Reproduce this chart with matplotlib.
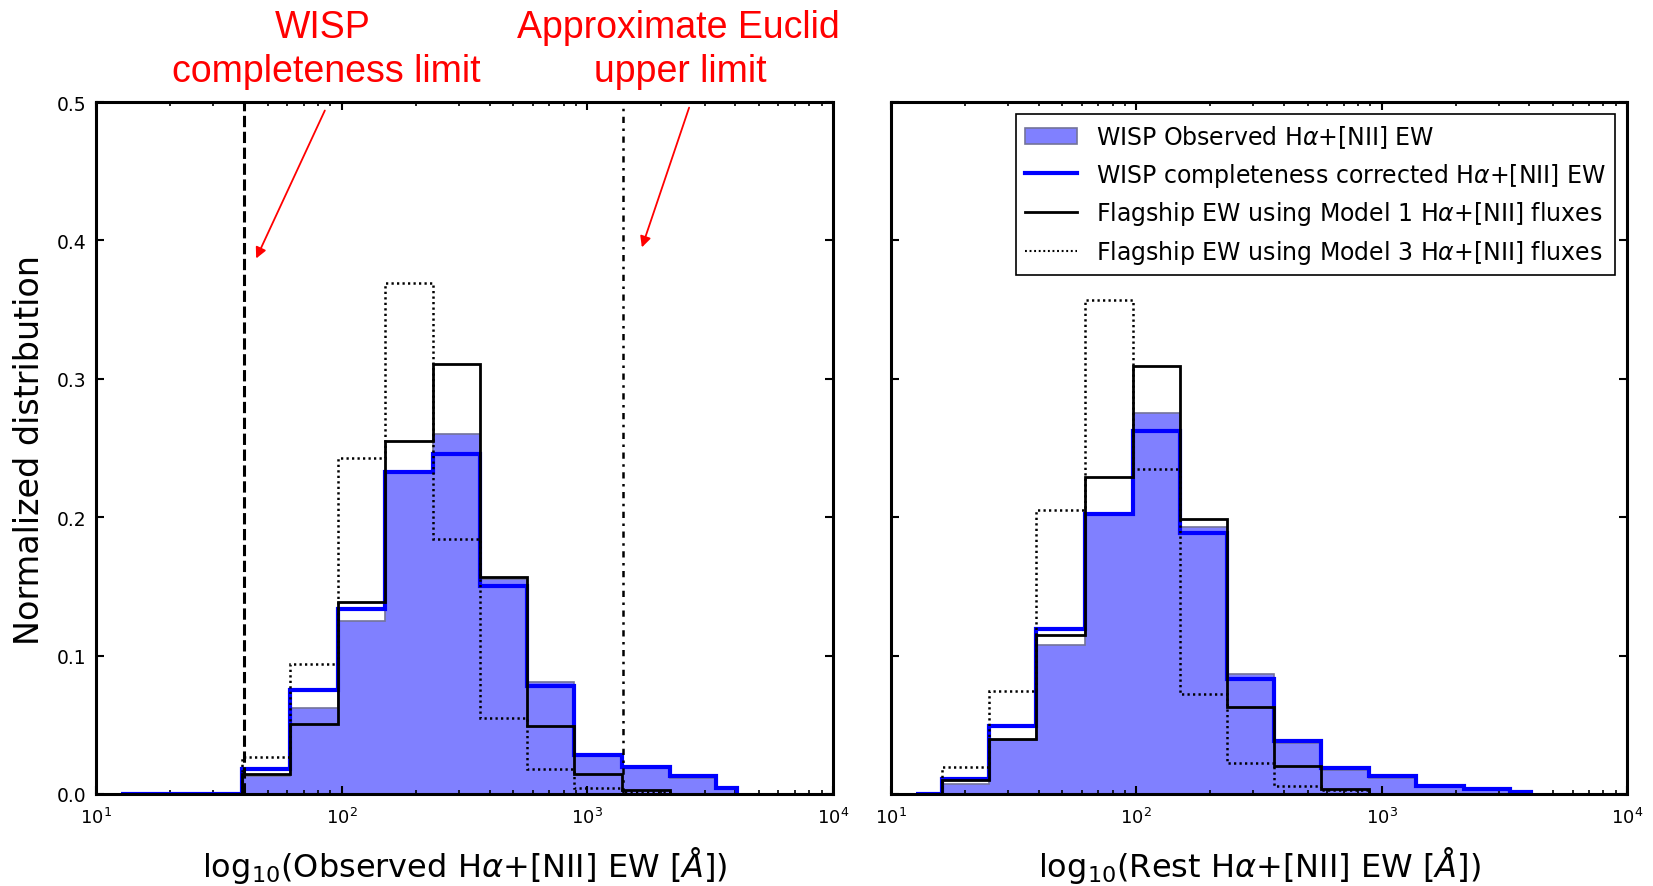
import numpy as np
import matplotlib
matplotlib.use("Agg")
import matplotlib.pyplot as plt
from matplotlib.patches import Patch, FancyArrowPatch
from matplotlib.lines import Line2D

# ---------------- data ----------------
# common bin edges, log10(EW / Angstrom)
bin_edges_log = [1.10, 1.206, 1.40, 1.593, 1.79, 1.987, 2.177, 2.37, 2.563,
                 2.754, 2.947, 3.14, 3.336, 3.525, 3.61]
nan = np.nan

# Left panel: observed-frame EW
obs_wisp_observed = [0, 0, 0, 0.013, 0.062, 0.125, 0.232, 0.260, 0.155, 0.081,
                     0.0277, 0.0188, 0.0113, 0.0036]
obs_wisp_corrected = [0, 0, 0, 0.018, 0.0755, 0.134, 0.233, 0.246, 0.150, 0.078,
                      0.0285, 0.0197, 0.0127, 0.0043]
obs_flagship_m1 = [nan, nan, nan, 0.0144, 0.0505, 0.139, 0.255, 0.311, 0.157,
                   0.049, 0.0145, 0.0032, nan, nan]
obs_flagship_m3 = [nan, nan, nan, 0.027, 0.094, 0.243, 0.369, 0.184, 0.0547,
                   0.018, 0.0043, 0.0012, nan, nan]

# Right panel: rest-frame EW
rest_wisp_observed = [0, 0.0075, 0.039, 0.108, 0.2015, 0.275, 0.193, 0.087,
                      0.0370, 0.0176, 0.0118, 0.005, 0.0028, 0.001]
rest_wisp_corrected = [0, 0.0105, 0.049, 0.119, 0.2026, 0.2624, 0.1883, 0.083,
                       0.0381, 0.019, 0.0132, 0.006, 0.0035, 0.0017]
rest_flagship_m1 = [nan, 0.0098, 0.040, 0.1146, 0.2288, 0.3089, 0.1989, 0.0631,
                    0.0199, 0.0038, nan, nan, nan, nan]
rest_flagship_m3 = [nan, 0.0196, 0.0747, 0.2052, 0.357, 0.2351, 0.072, 0.0222,
                    0.006, 0.0028, nan, nan, nan, nan]

wisp_limit = 40.0      # WISP completeness limit [A]
euclid_limit = 1400.0  # approximate Euclid upper limit [A]

legend_labels = [r"WISP Observed H$\alpha$+[NII] EW",
                 r"WISP completeness corrected H$\alpha$+[NII] EW",
                 r"Flagship EW using Model 1 H$\alpha$+[NII] fluxes",
                 r"Flagship EW using Model 3 H$\alpha$+[NII] fluxes"]
xlabels = [r"log$_{10}$(Observed H$\alpha$+[NII] EW [$\AA$])",
           r"log$_{10}$(Rest H$\alpha$+[NII] EW [$\AA$])"]
yticks = [0.0, 0.1, 0.2, 0.3, 0.4, 0.5]

# ---------------- plotting ----------------
W, H = 1653, 887
fig = plt.figure(figsize=(W / 100, H / 100), dpi=100)

def fx(px):
    return px / W

def fy(py):
    return 1 - py / H

ax_bottom, ax_top = 795, 103
ax1 = fig.add_axes([fx(96), fy(ax_bottom), (833 - 96) / W, (ax_bottom - ax_top) / H])
ax2 = fig.add_axes([fx(891), fy(ax_bottom), (1627 - 891) / W, (ax_bottom - ax_top) / H])

edges = 10 ** np.array(bin_edges_log)
fill_col = (0.5, 0.5, 1.0)
dot_style = (0, (0.9, 1.3))


def stairs_valid(ax, vals, **kw):
    v = np.array(vals, dtype=float)
    ok = np.where(~np.isnan(v))[0]
    i0, i1 = ok[0], ok[-1] + 1
    return ax.stairs(v[i0:i1], edges[i0:i1 + 1], baseline=0, **kw)


def draw_panel(ax, observed, corrected, m1, m3):
    stairs_valid(ax, observed, fill=True, facecolor=fill_col,
                 edgecolor=(0.45, 0.45, 0.6), lw=1.2, zorder=1)
    stairs_valid(ax, corrected, color="#0000ff", lw=3.0, zorder=2)
    stairs_valid(ax, m3, color="black", lw=1.8, ls=dot_style, zorder=3)
    stairs_valid(ax, m1, color="black", lw=2.0, zorder=4)
    ax.set_xscale("log")
    ax.set_xlim(10, 1e4)
    ax.set_ylim(0, 0.5)
    ax.set_yticks(yticks)
    ax.set_yticklabels([f"{t:.1f}" for t in yticks])
    ax.tick_params(which="both", direction="in", top=True, right=True)
    ax.tick_params(which="major", length=6, width=1.5, labelsize=13.5, pad=7)
    ax.tick_params(which="minor", length=3, width=1.2)
    ax.tick_params(axis="x", which="major", labelsize=13, pad=9)
    for s in ax.spines.values():
        s.set_linewidth(2.2)


draw_panel(ax1, obs_wisp_observed, obs_wisp_corrected, obs_flagship_m1, obs_flagship_m3)
draw_panel(ax2, rest_wisp_observed, rest_wisp_corrected, rest_flagship_m1, rest_flagship_m3)
ax2.tick_params(axis="y", labelleft=False)

ax1.axvline(wisp_limit, color="black", lw=2.2, ls=(0, (3.7, 1.5)), zorder=5)
ax1.axvline(euclid_limit, color="black", lw=1.8, ls=(0, (2.5, 2.2, 1, 2.2)), zorder=5)

handles = [Patch(facecolor=fill_col, edgecolor=(0.45, 0.45, 0.6), lw=1.2),
           Line2D([], [], color="#0000ff", lw=3.0),
           Line2D([], [], color="black", lw=2.0),
           Line2D([], [], color="black", lw=1.5, ls=dot_style)]
leg = ax2.legend(handles, legend_labels, loc="upper right", fontsize=17,
                 fancybox=False, framealpha=1, edgecolor="black",
                 borderpad=0.4, labelspacing=0.45, handlelength=2.2,
                 handletextpad=0.8, borderaxespad=0.5)
leg.get_frame().set_linewidth(1.2)

# axis labels
fig.text(fx(29.5), fy(450), "Normalized distribution", rotation=90,
         ha="center", va="center", fontsize=24)
fig.text(fx(465), fy(866), xlabels[0], ha="center", va="center", fontsize=23)
fig.text(fx(1259), fy(866), xlabels[1], ha="center", va="center", fontsize=23)

# red annotations
red_kw = dict(color="red", fontsize=27, family=["Liberation Sans", "DejaVu Sans"],
              ha="center", va="baseline")
fig.text(fx(323), fy(37.5), "WISP", **red_kw)
fig.text(fx(326.6), fy(81.5), "completeness limit", **red_kw)
fig.text(fx(678), fy(37.5), "Approximate Euclid", **red_kw)
fig.text(fx(680), fy(81.5), "upper limit", **red_kw)

for (xa, ya), (xb, yb) in [((326, 109), (255, 262)), ((690, 106), (641, 251))]:
    arr = FancyArrowPatch((fx(xa), fy(ya)), (fx(xb), fy(yb)),
                          transform=fig.transFigure, arrowstyle="-|>",
                          mutation_scale=16, color="red", lw=1.3)
    fig.add_artist(arr)

fig.savefig("out.png", dpi=100)
